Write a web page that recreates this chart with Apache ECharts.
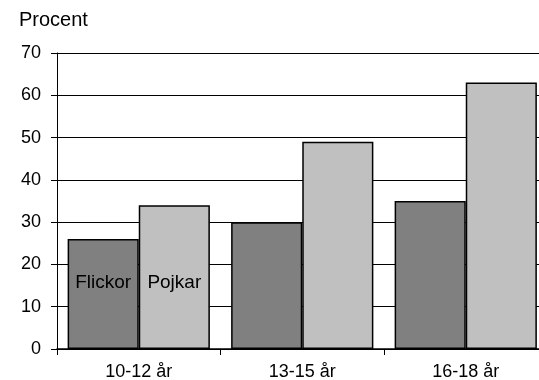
<!DOCTYPE html>
<html>
<head>
<meta charset="utf-8">
<script src="https://cdn.jsdelivr.net/npm/echarts@6/dist/echarts.min.js"></script>
<style>
html,body{margin:0;padding:0;background:#fff;}
#c{width:539px;height:380px;}
</style>
</head>
<body>
<div id="c"></div>
<script>
var categories = ['10-12 år', '13-15 år', '16-18 år'];
var flickor = [26, 30, 35];
var pojkar = [34, 49, 63];
var seriesNames = ['Flickor', 'Pojkar'];
var yTitle = 'Procent';

var FONT = "'Liberation Sans', Arial, sans-serif";
var chart = echarts.init(document.getElementById('c'), null, {renderer: 'canvas'});

function withLabel(arr, name) {
  return arr.map(function (v, i) {
    if (i !== 0) return v;
    return {
      value: v,
      label: {
        show: true,
        formatter: name,
        position: 'insideBottom',
        distance: 57,
        color: '#000',
        fontSize: 19,
        fontFamily: FONT
      }
    };
  });
}

chart.setOption({
  animation: false,
  backgroundColor: '#fff',
  title: {
    text: yTitle,
    left: 19,
    top: 10,
    padding: 0,
    textStyle: {fontSize: 20, fontWeight: 'normal', color: '#000', fontFamily: FONT}
  },
  grid: {left: 57, top: 53, bottom: 31, width: 490.5, containLabel: false, outerBoundsMode: 'none'},
  xAxis: {
    type: 'category',
    data: categories,
    axisLine: {lineStyle: {color: '#000', width: 1.5}},
    axisTick: {show: true, length: 6, lineStyle: {color: '#000'}},
    axisLabel: {color: '#000', fontSize: 18, fontFamily: FONT, margin: 14},
    splitLine: {show: false}
  },
  yAxis: {
    type: 'value',
    min: 0,
    max: 70,
    interval: 10,
    axisLine: {show: true, lineStyle: {color: '#000', width: 1}},
    axisTick: {show: true, length: 6, lineStyle: {color: '#000'}},
    axisLabel: {color: '#000', fontSize: 18, fontFamily: FONT, margin: 16},
    splitLine: {show: true, lineStyle: {color: '#000', width: 1}}
  },
  series: [
    {
      name: seriesNames[0],
      type: 'bar',
      data: withLabel(flickor, seriesNames[0]),
      barGap: '0%',
      barCategoryGap: '13%',
      itemStyle: {color: '#808080', borderColor: '#000', borderWidth: 1.5}
    },
    {
      name: seriesNames[1],
      type: 'bar',
      data: withLabel(pojkar, seriesNames[1]),
      barGap: '0%',
      barCategoryGap: '13%',
      itemStyle: {color: '#c0c0c0', borderColor: '#000', borderWidth: 1.5}
    }
  ]
});
</script>
</body>
</html>
